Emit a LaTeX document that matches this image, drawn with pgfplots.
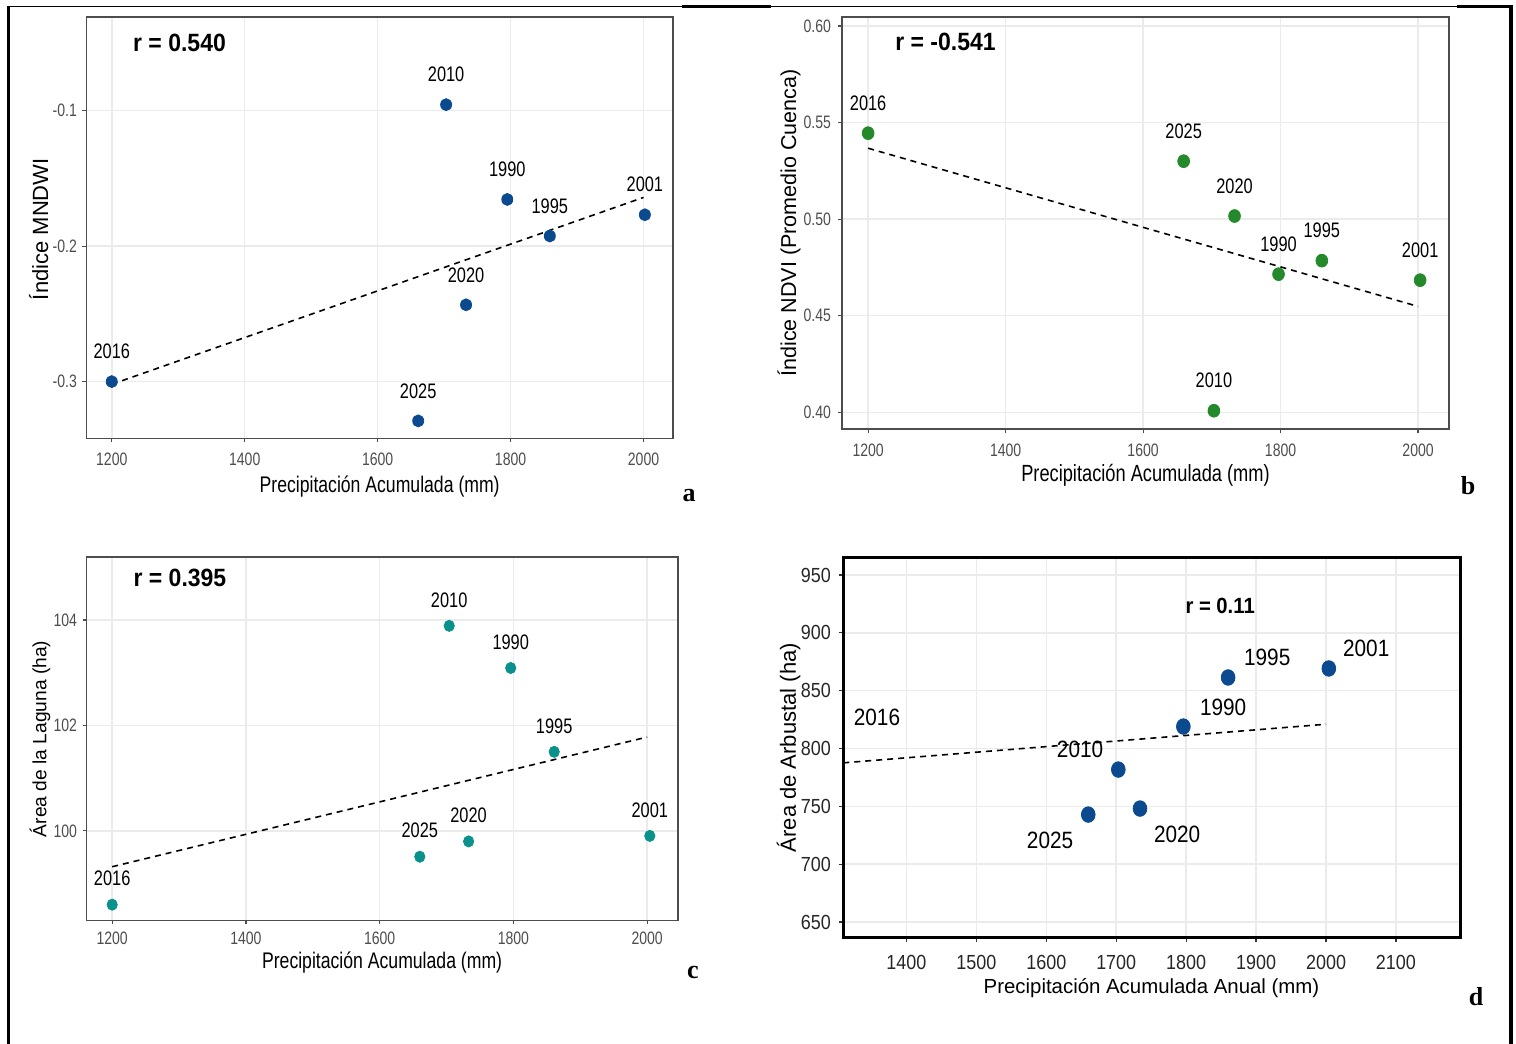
\documentclass[border=0pt]{standalone}
\usepackage{fontspec}
\setmainfont{Liberation Sans}
\newfontfamily\narrow[FakeStretch=0.78]{Liberation Sans}
\newfontfamily\narrowd[FakeStretch=0.88]{Liberation Sans}
\newfontfamily\rfont[FakeStretch=0.92]{Liberation Sans}
\newfontfamily\letterfont{Liberation Serif}
\usepackage{pgfplots}
\pgfplotsset{compat=1.18}
\definecolor{cblue}{HTML}{0B4A8E}
\definecolor{cgreen}{HTML}{24892A}
\definecolor{cteal}{HTML}{0A918B}
\definecolor{gridc}{HTML}{EBEBEB}
\definecolor{framec}{HTML}{4D4D4D}
\definecolor{tickc}{HTML}{4D4D4D}

\pgfplotsset{
  ggstyle/.style={
    scale only axis, anchor=south west,
    grid=major, major grid style={draw=gridc, line width=0.75pt},
    axis line style={draw=framec, line width=0.9pt},
    tick style={draw=framec, line width=0.6pt},
    major tick length=2pt, tick align=outside,
    xtick pos=bottom, ytick pos=left,
    ticklabel style={text=tickc, font=\narrow\fontsize{9}{9}\selectfont},
    every axis x label/.style={anchor=center, font=\narrow\fontsize{11.3}{11.3}\selectfont, text=black},
    every axis y label/.style={anchor=center, rotate=90, font=\fontsize{11}{11}\selectfont, text=black},
    xtick={1200,1400,1600,1800,2000},
    xticklabels={1200,1400,1600,1800,2000},
  },
  pts/.style={only marks, mark=*, mark size=3pt, #1, mark options={draw=#1, fill=#1, xscale=0.92},
    nodes near coords, point meta=explicit symbolic,
    every node near coord/.append style={text=black, anchor=center, yshift=15pt,
      font=\narrow\fontsize{10.5}{10.5}\selectfont}},
  trend/.style={black, line width=0.8pt, dash pattern=on 3pt off 2.5pt},
}
\newcommand{\rlab}{\rfont\bfseries\fontsize{12.5}{12.5}\selectfont}

\begin{document}
\begin{tikzpicture}
\useasboundingbox (0,0) rectangle (758pt,522pt);

% ---------------- panel a ----------------
\begin{axis}[ggstyle,
  at={(43.25pt,302.75pt)}, width=293.15pt, height=210.6pt,
  xmin=1162, xmax=2044, ymin=-0.342, ymax=-0.031,
  ytick={-0.3,-0.2,-0.1}, yticklabels={-0.3,-0.2,-0.1},
  xticklabel style={yshift=-1.5pt},
  yticklabel style={xshift=0.75pt},
  xlabel={Precipitación Acumulada (mm)},
  ylabel={Índice MNDWI},
  xlabel style={at={([yshift=-24.25pt]axis description cs:0.5,0)}},
  ylabel style={at={([xshift=-23.9pt]axis description cs:0,0.497)}},
]
\addplot[trend] coordinates {(1200,-0.302) (2000,-0.164)};
\addplot[pts=cblue] table[x=x,y=y,meta=lab] {
x y lab
1200 -0.300 2016
1661 -0.329 2025
1703 -0.0955 2010
1733 -0.2433 2020
1795 -0.1655 1990
1859 -0.1925 1995
2002 -0.1768 2001
};
\node[anchor=west, inner sep=0pt, font=\rlab] at (axis cs:1231.6,-0.0496) {r = 0.540};
\end{axis}

% ---------------- panel b ----------------
\begin{axis}[ggstyle,
  at={(421pt,307.35pt)}, width=303.5pt, height=206.3pt,
  xmin=1162, xmax=2045, ymin=0.3912, ymax=0.6048,
  ytick={0.40,0.45,0.50,0.55,0.60}, yticklabels={0.40,0.45,0.50,0.55,0.60},
  xticklabel style={yshift=-2pt},
  yticklabel style={xshift=0pt},
  xlabel={Precipitación Acumulada (mm)},
  ylabel={Índice NDVI (Promedio Cuenca)},
  xlabel style={font=\narrow\fontsize{11.7}{11.7}\selectfont, at={([yshift=-23pt]axis description cs:0.5,0)}},
  ylabel style={font=\fontsize{10.75}{10.75}\selectfont, at={([xshift=-26.5pt]axis description cs:0,0.5)}},
]
\addplot[trend] coordinates {(1200,0.5367) (2000,0.4548)};
\addplot[pts=cgreen, mark size=3.2pt] table[x=x,y=y,meta=lab] {
x y lab
1200 0.5445 2016
1659 0.5300 2025
1733 0.5016 2020
1797 0.4715 1990
1860 0.4785 1995
2003 0.4684 2001
1703 0.4008 2010
};
\node[anchor=west, inner sep=0pt, font=\rlab] at (axis cs:1238.9,0.5919) {r = -0.541};
\end{axis}

% ---------------- panel c ----------------
\begin{axis}[ggstyle,
  at={(43.25pt,61.75pt)}, width=295.6pt, height=181.6pt,
  xmin=1161.6, xmax=2045.7, ymin=98.30, ymax=105.19,
  ytick={100,102,104}, yticklabels={100,102,104},
  xticklabel style={yshift=-0.25pt},
  yticklabel style={xshift=0.8pt},
  xlabel={Precipitación Acumulada (mm)},
  ylabel={Área de la Laguna (ha)},
  xlabel style={at={([yshift=-21pt]axis description cs:0.5,0)}},
  ylabel style={font=\fontsize{9.6}{9.6}\selectfont, at={([xshift=-23.25pt]axis description cs:0,0.5)}},
]
\addplot[trend] coordinates {(1200,99.32) (2000,101.78)};
\addplot[pts=cteal, mark size=2.8pt, every node near coord/.append style={yshift=-2pt}] table[x=x,y=y,meta=lab] {
x y lab
1200 98.60 2016
1660 99.51 2025
1733 99.80 2020
1704 103.89 2010
1796 103.09 1990
1861 101.50 1995
2004 99.905 2001
};
\node[anchor=west, inner sep=0pt, font=\rlab] at (axis cs:1231.4,104.80) {r = 0.395};
\end{axis}

% ---------------- panel d ----------------
\begin{axis}[ggstyle,
  at={(421.5pt,53pt)}, width=308.5pt, height=190pt,
  xmin=1309.3, xmax=2191.6, ymin=636.2, ymax=964.7,
  axis line style={draw=black, line width=1.5pt},
  tick style={draw=black!80, line width=0.6pt},
  ticklabel style={text=black!85, font=\narrowd\fontsize{10.2}{10.2}\selectfont},
  xticklabel style={yshift=-3.2pt},
  yticklabel style={xshift=-0.55pt},
  xtick={1400,1500,1600,1700,1800,1900,2000,2100},
  xticklabels={1400,1500,1600,1700,1800,1900,2000,2100},
  ytick={650,700,750,800,850,900,950},
  yticklabels={650,700,750,800,850,900,950},
  xlabel={Precipitación Acumulada Anual (mm)},
  ylabel={Área de Arbustal (ha)},
  xlabel style={font=\fontsize{10.2}{10.2}\selectfont, at={([yshift=-25pt]axis description cs:0.5,0)}},
  ylabel style={font=\fontsize{11}{11}\selectfont, at={([xshift=-27.25pt]axis description cs:0,0.501)}},
]
\addplot[trend] coordinates {(1200,782.3) (2000,821)};
\addplot[only marks, mark=*, mark size=3.9pt, cblue, mark options={draw=cblue, fill=cblue, xscale=0.88}] table[x=x,y=y] {
x y
1660 742.9
1703 781.8
1734 748.1
1796 819.0
1860 861.4
2004 869.2
};
\begin{scope}[every node/.style={font=\narrowd\fontsize{11.8}{11.8}\selectfont, inner sep=0pt, anchor=center}]
\node at (axis cs:1357.9,827.1) {2016};
\node at (axis cs:1915.9,879.0) {1995};
\node at (axis cs:2057.5,886.8) {2001};
\node at (axis cs:1852.9,835.7) {1990};
\node at (axis cs:1648.3,799.4) {2010};
\node at (axis cs:1605.4,720.7) {2025};
\node at (axis cs:1787.1,725.9) {2020};
\end{scope}
\node[anchor=center, inner sep=0pt, font=\rfont\bfseries\fontsize{11}{11}\selectfont] at (axis cs:1848.6,923.1) {r = 0.11};
\end{axis}

% ---------------- panel letters ----------------
\node[font=\letterfont\bfseries\fontsize{13}{13}\selectfont, inner sep=0pt] at (344.5pt,274pt) {a};
\node[font=\letterfont\bfseries\fontsize{13}{13}\selectfont, inner sep=0pt] at (734pt,279pt) {b};
\node[font=\letterfont\bfseries\fontsize{13}{13}\selectfont, inner sep=0pt] at (346.5pt,36pt) {c};
\node[font=\letterfont\bfseries\fontsize{13}{13}\selectfont, inner sep=0pt] at (738pt,23.5pt) {d};

% ---------------- outer frame ----------------
\draw[line width=1.5pt] (4pt,0) -- (4pt,519pt);
\draw[line width=0.75pt] (4pt,518.85pt) -- (755pt,518.85pt);
\draw[line width=1.4pt] (341pt,518.7pt) -- (385.4pt,518.7pt);
\draw[line width=1.4pt] (728.5pt,518.6pt) -- (755.5pt,518.6pt);
\draw[line width=2pt] (755.3pt,519.4pt) -- (755.3pt,0);
\end{tikzpicture}
\end{document}
